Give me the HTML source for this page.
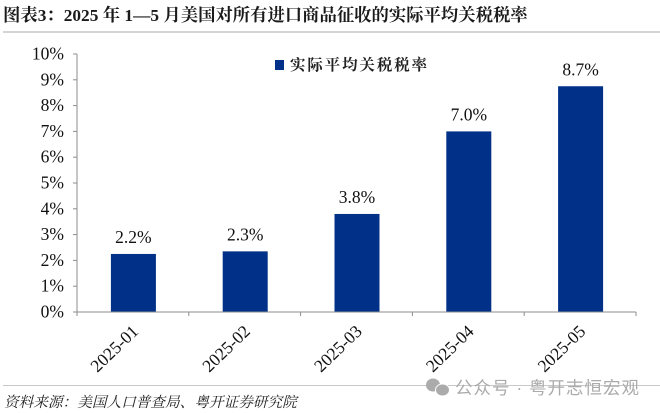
<!DOCTYPE html>
<html lang="zh">
<head>
<meta charset="utf-8">
<title>2025 年 1—5 月美国对所有进口商品征收的实际平均关税税率</title>
<style>
html,body{margin:0;padding:0;background:#fff;}
body{width:660px;height:413px;overflow:hidden;position:relative;}
svg{display:block;position:absolute;left:0;top:0;}
text{font-family:"Liberation Serif","Noto Serif CJK SC",serif;}
</style>
</head>
<body>
<svg id="chart" width="660" height="413" viewBox="0 0 660 413">
  <text x="3" y="21" font-size="17.35" font-weight="700" fill="#1a1a1a">图表3：2025 年 1—5 月美国对所有进口商品征收的实际平均关税税率</text>
  <rect x="3" y="31" width="657" height="2" fill="#d4d4d4"></rect>
  <rect x="275" y="60" width="9" height="10" fill="#003087"></rect>
  <text x="290" y="70" font-size="15.5" font-weight="700" fill="#222" textLength="137" lengthAdjust="spacing">实际平均关税税率</text>
  <g id="plot"></g>
  <rect x="3" y="385" width="657" height="1" fill="#c8c8c8"></rect>
  <text x="4" y="407" font-size="14.65" font-style="italic" fill="#222">资料来源：美国人口普查局、粤开证券研究院</text>
  <g>
    <ellipse cx="433" cy="385" rx="7" ry="6.5" fill="#ababab"></ellipse>
    <ellipse cx="442.5" cy="390" rx="7" ry="6" fill="#ababab" stroke="#fff" stroke-width="1"></ellipse>
    <text x="455" y="394" font-size="17.5" fill="#ababab" style="font-family:'Liberation Sans','Noto Sans CJK SC',sans-serif" textLength="184" lengthAdjust="spacing">公众号 · 粤开志恒宏观</text>
  </g>
</svg>
<script>
var categories = ['2025-01', '2025-02', '2025-03', '2025-04', '2025-05'];
var rateValues = [2.25, 2.35, 3.8, 7.0, 8.75];
var valueLabels = ['2.2%', '2.3%', '3.8%', '7.0%', '8.7%'];
var yTicks = [0, 1, 2, 3, 4, 5, 6, 7, 8, 9, 10];

var NS = 'http://www.w3.org/2000/svg';
var plot = document.getElementById('plot');
var left = 77, right = 636, top0 = 54, bottom = 312, yMax = 10;
var step = (right - left) / categories.length;
var barWidth = 45;

function xBand(i) { return left + step * i; }
function xCenter(i) { return xBand(i) + step / 2; }
function yScale(v) { return bottom - (v / yMax) * (bottom - top0); }
function make(tag, attrs, parent) {
  var el = document.createElementNS(NS, tag);
  for (var k in attrs) { el.setAttribute(k, attrs[k]); }
  (parent || plot).appendChild(el);
  return el;
}

categories.forEach(function (cat, i) {
  var y = yScale(rateValues[i]);
  var bar = make('rect', { x: xCenter(i) - barWidth / 2 + 0.5, y: y, width: barWidth, height: bottom - y, fill: '#003087' });
  
  

  var label = make('text', { x: xCenter(i) + 0.5, y: y - 11, 'font-size': 17.5, fill: '#111', 'text-anchor': 'middle' });
  label.textContent = valueLabels[i];
  
  

  var tx = xCenter(i) + 6.5, ty = 332.5;
  var tick = make('text', { x: tx, y: ty, 'font-size': 17.5, fill: '#111', 'text-anchor': 'end', transform: 'rotate(-44 ' + tx + ' ' + ty + ')' });
  tick.textContent = cat;
  
  
});

yTicks.forEach(function (t) {
  var y = yScale(t);
  var mark = make('line', { x1: 73, x2: left, y1: y, y2: y, stroke: '#8c8c8c', 'stroke-width': 1 });
  
  

  var lab = make('text', { x: 64, y: y + 5.5, 'font-size': 17.5, fill: '#111', 'text-anchor': 'end' });
  lab.textContent = t + '%';
  
  
});

for (var i = 0; i <= categories.length; i++) {
  var xt = make('line', { x1: xBand(i), x2: xBand(i), y1: bottom, y2: bottom + 4, stroke: '#8c8c8c', 'stroke-width': 1 });
  
  
}

var yAxis = make('line', { x1: left, x2: left, y1: top0, y2: bottom, stroke: '#8c8c8c', 'stroke-width': 1 });



var xAxis = make('line', { x1: left, x2: right, y1: bottom, y2: bottom, stroke: '#8c8c8c', 'stroke-width': 1 });


</script>
</body>
</html>
